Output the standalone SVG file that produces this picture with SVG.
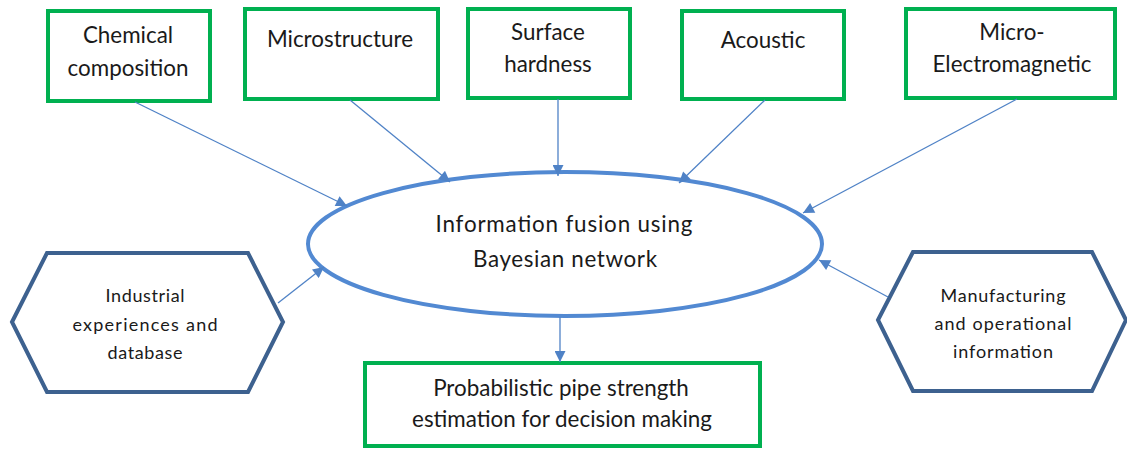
<svg xmlns="http://www.w3.org/2000/svg" width="1127" height="454" viewBox="0 0 1127 454">
  <style>
    .box { fill: #ffffff; stroke: #00b050; stroke-width: 4; }
    .hex { fill: #ffffff; stroke: #3d618f; stroke-width: 4; stroke-linejoin: miter; }
    .core { fill: #ffffff; stroke: #5289d2; stroke-width: 4; }
    .lbl { font-family: Lato, "Liberation Sans", sans-serif; font-size: 22.4px; fill: #1a1a1a; text-anchor: middle; }
    .sm { font-size: 18px; }
    .edge { stroke: #4f82c6; stroke-width: 1.3; fill: none; marker-end: url(#head); }
  </style>
  <defs>
    <marker id="head" viewBox="0 0 10 10" refX="10" refY="5" markerWidth="12" markerHeight="11" markerUnits="userSpaceOnUse" orient="auto">
      <path d="M0,0 L10,5 L0,10 z" fill="#4f82c6"/>
    </marker>
  </defs>
  <rect width="1127" height="454" fill="#ffffff"/>

  <!-- central fusion node -->
  <g id="fusion">
    <ellipse class="core" cx="565" cy="244" rx="257" ry="72"/>
    <text class="lbl" x="564" y="232" textLength="257" lengthAdjust="spacing">Information fusion using</text>
    <text class="lbl" x="565" y="267" textLength="184" lengthAdjust="spacing">Bayesian network</text>
  </g>

  <!-- measurement inputs -->
  <g id="chemical">
    <rect class="box" x="48" y="11" width="162" height="90"/>
    <text class="lbl" x="128" y="43">Chemical</text>
    <text class="lbl" x="128" y="76">composition</text>
  </g>
  <g id="microstructure">
    <rect class="box" x="245" y="9" width="193" height="90"/>
    <text class="lbl" x="340" y="47">Microstructure</text>
  </g>
  <g id="hardness">
    <rect class="box" x="468" y="9" width="162" height="89"/>
    <text class="lbl" x="548" y="40">Surface</text>
    <text class="lbl" x="548" y="72">hardness</text>
  </g>
  <g id="acoustic">
    <rect class="box" x="682" y="11" width="162" height="88"/>
    <text class="lbl" x="763" y="48">Acoustic</text>
  </g>
  <g id="electromagnetic">
    <rect class="box" x="906" y="9" width="209" height="89"/>
    <text class="lbl" x="1012" y="40">Micro-</text>
    <text class="lbl" x="1012" y="72">Electromagnetic</text>
  </g>

  <!-- prior knowledge inputs -->
  <g id="industrial">
    <polygon class="hex" points="12,322 47,253 248,253 283,322 248,392 47,392"/>
    <text class="lbl sm" x="145" y="302" textLength="79" lengthAdjust="spacing">Industrial</text>
    <text class="lbl sm" x="145" y="331" textLength="145" lengthAdjust="spacing">experiences and</text>
    <text class="lbl sm" x="145" y="359" textLength="75" lengthAdjust="spacing">database</text>
  </g>
  <g id="manufacturing">
    <polygon class="hex" points="878,320 913,252 1092,252 1126,320 1092,391 913,391"/>
    <text class="lbl sm" x="1003" y="302" textLength="125" lengthAdjust="spacing">Manufacturing</text>
    <text class="lbl sm" x="1003" y="330" textLength="137" lengthAdjust="spacing">and operational</text>
    <text class="lbl sm" x="1003" y="358" textLength="100" lengthAdjust="spacing">information</text>
  </g>

  <!-- output -->
  <g id="estimation">
    <rect class="box" x="365" y="363" width="395" height="83"/>
    <text class="lbl" x="561" y="396">Probabilistic pipe strength</text>
    <text class="lbl" x="562" y="427">estimation for decision making</text>
  </g>

  <!-- connectors, drawn last so the arrowheads sit on the node outlines -->
  <g id="connectors">
    <line class="edge" x1="135" y1="102" x2="347" y2="206"/>
    <line class="edge" x1="350" y1="100" x2="450" y2="182"/>
    <line class="edge" x1="558" y1="99" x2="558" y2="176"/>
    <line class="edge" x1="765" y1="100" x2="679" y2="183"/>
    <line class="edge" x1="1017" y1="99" x2="803" y2="213"/>
    <line class="edge" x1="278" y1="303" x2="324" y2="267"/>
    <line class="edge" x1="888" y1="297" x2="819" y2="260"/>
    <line class="edge" x1="560" y1="317" x2="560" y2="362"/>
  </g>
</svg>
